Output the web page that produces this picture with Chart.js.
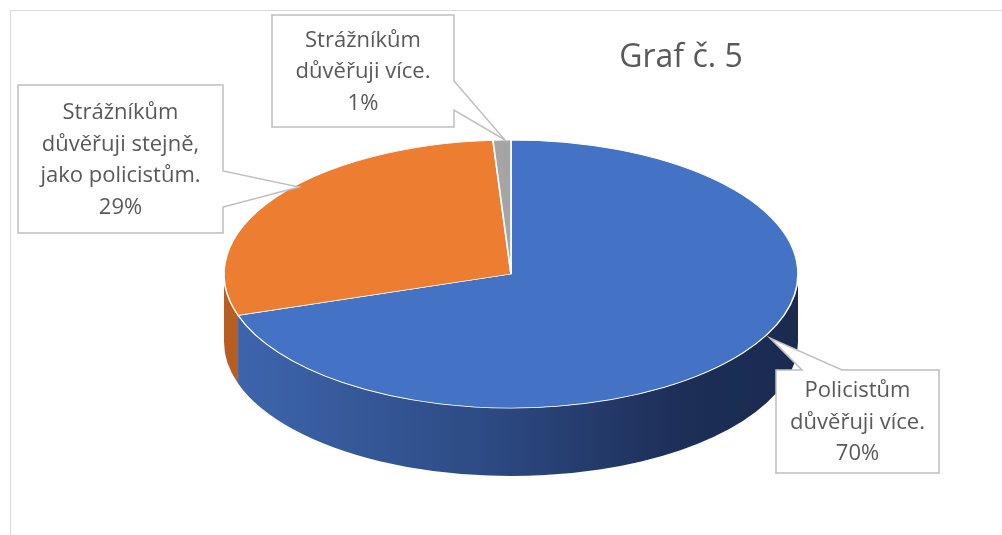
<!DOCTYPE html>
<html>
<head>
<meta charset="utf-8">
<script src="https://cdn.jsdelivr.net/npm/chart.js@4/dist/chart.umd.min.js"></script>
<style>
  html, body { margin: 0; padding: 0; background: #ffffff; }
  #wrap { width: 1002px; height: 535px; position: relative; }
</style>
</head>
<body>
<div id="wrap"><canvas id="c" width="1002" height="535"></canvas></div>
<script>
// ---- data ----
const categories = [
  ["Policistům", "důvěřuji více."],
  ["Strážníkům", "důvěřuji stejně,", "jako policistům."],
  ["Strážníkům", "důvěřuji více."]
];
const values = [70, 29, 1];
const chartTitle = "Graf č. 5";

// ---- styling ----
const topColors = ["#4472c4", "#ed7d31", "#a5a5a5"];
const RX = 287, RY = 134, DEPTH = 68;
const TEXT = "#595959";
const FONT = "'Open Sans', 'Noto Sans', sans-serif";

// label boxes (x, y, w, h) and callout tips, in pixels
const boxes = [
  { x: 776, y: 370, w: 163, h: 103, tip: [770, 338], ptr: "top", p1: 802, p2: 842 },
  { x: 18,  y: 85,  w: 205, h: 148, tip: [299, 187], ptr: "right", p1: 171, p2: 207 },
  { x: 272, y: 15,  w: 182, h: 112, tip: [505, 140], ptr: "right", p1: 81, p2: 110 }
];

function sideGradient(ctx, cx, baseColors) {
  const g = ctx.createLinearGradient(cx - RX, 0, cx + RX, 0);
  baseColors.forEach(([s, c]) => g.addColorStop(s, c));
  return g;
}

const pie3d = {
  id: 'pie3d',
  beforeDraw(chart) {
    const ctx = chart.ctx;
    ctx.save();
    ctx.fillStyle = '#ffffff';
    ctx.fillRect(0, 0, chart.width, chart.height);
    ctx.strokeStyle = '#d9d9d9';
    ctx.lineWidth = 1;
    ctx.strokeRect(10.5, 10.5, 1200, 800);
    ctx.restore();
  },
  beforeDatasetsDraw(chart) {
    const ctx = chart.ctx;
    const meta = chart.getDatasetMeta(0);
    const el0 = meta.data[0];
    const cx = el0.x, cy = el0.y, R = el0.outerRadius;
    // side walls (front half only: angles 0..PI)
    const sideStops = [
      [[0, "#3e66ae"], [0.45, "#2d4b84"], [0.8, "#1d2e57"], [1, "#1a2a4f"]],
      [[0, "#b85e22"], [0.5, "#9a4d1a"], [1, "#7a3d14"]],
      [[0, "#7f7f7f"], [1, "#5f5f5f"]]
    ];
    meta.data.forEach((el, i) => {
      for (const shift of [-2 * Math.PI, 0, 2 * Math.PI]) {
        const s = el.startAngle + shift, e = el.endAngle + shift;
        const a1 = Math.max(s, 0), a2 = Math.min(e, Math.PI);
        if (a2 > a1) {
          ctx.save();
          ctx.beginPath();
          ctx.ellipse(cx, cy, RX, RY, 0, a1, a2, false);
          ctx.ellipse(cx, cy + DEPTH, RX, RY, 0, a2, a1, true);
          ctx.closePath();
          ctx.fillStyle = sideGradient(ctx, cx, sideStops[i]);
          ctx.fill();
          ctx.restore();
        }
      }
    });
    // squash the top face into an ellipse
    ctx.save();
    ctx.translate(cx, cy);
    ctx.scale(RX / R, RY / R);
    ctx.translate(-cx, -cy);
  },
  afterDatasetsDraw(chart) {
    const ctx = chart.ctx;
    ctx.restore();
    // title
    ctx.save();
    ctx.fillStyle = TEXT;
    ctx.font = "32px " + FONT;
    ctx.textAlign = 'center';
    ctx.textBaseline = 'middle';
    ctx.fillText(chartTitle, 681, 58);
    ctx.restore();
    // data labels with callouts
    const total = values.reduce((a, b) => a + b, 0);
    boxes.forEach((b, i) => {
      ctx.save();
      ctx.beginPath();
      const L = b.x, T = b.y, Rr = b.x + b.w, B = b.y + b.h;
      ctx.moveTo(L, T);
      if (b.ptr === 'top') {
        ctx.lineTo(b.p1, T); ctx.lineTo(b.tip[0], b.tip[1]); ctx.lineTo(b.p2, T);
        ctx.lineTo(Rr, T); ctx.lineTo(Rr, B);
      } else {
        ctx.lineTo(Rr, T); ctx.lineTo(Rr, b.p1); ctx.lineTo(b.tip[0], b.tip[1]);
        ctx.lineTo(Rr, b.p2); ctx.lineTo(Rr, B);
      }
      ctx.lineTo(L, B);
      ctx.closePath();
      ctx.fillStyle = '#ffffff';
      ctx.fill();
      ctx.strokeStyle = '#bfbfbf';
      ctx.lineWidth = 1.5;
      ctx.stroke();
      const lines = categories[i].concat([Math.round(values[i] / total * 100) + "%"]);
      ctx.fillStyle = TEXT;
      ctx.font = "22px " + FONT;
      ctx.textAlign = 'center';
      ctx.textBaseline = 'middle';
      const lh = 31.5;
      const mid = T + b.h / 2 + 1;
      lines.forEach((t, k) => {
        ctx.fillText(t, L + b.w / 2, mid + (k - (lines.length - 1) / 2) * lh);
      });
      ctx.restore();
    });
  }
};

new Chart(document.getElementById('c'), {
  type: 'pie',
  data: {
    labels: categories,
    datasets: [{
      data: values,
      backgroundColor: topColors,
      borderColor: '#ffffff',
      borderWidth: 1.5
    }]
  },
  options: {
    responsive: false,
    animation: false,
    layout: { padding: { left: 20, right: 0, top: 13, bottom: 0 } },
    plugins: { legend: { display: false }, tooltip: { enabled: false }, title: { display: false } }
  },
  plugins: [pie3d]
});
</script>
</body>
</html>
